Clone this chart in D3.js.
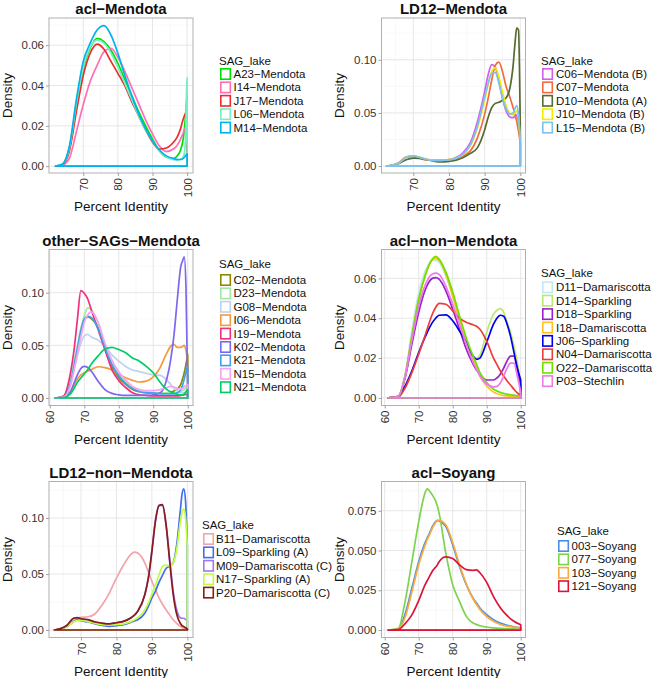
<!DOCTYPE html>
<html>
<head>
<meta charset="utf-8">
<script src="https://cdn.jsdelivr.net/npm/d3@7"></script>
<style>
  body { margin: 0; background: #fff; }
  svg { display: block; font-family: "Liberation Sans", Arial, Helvetica, sans-serif; }
</style>
</head>
<body>
<svg id="chart" width="653" height="678"></svg>
<script>
// ---------------- DATA ----------------
// Panel 1: acl-Mendota
const aclMendotaX = [62,64,66,68,70,72,74,76,78,80,82,84,86,88,90,92,94,96,97,98,99,99.5,99.8,100];
const aclMendotaNames = ["A23−Mendota","I14−Mendota","J17−Mendota","L06−Mendota","M14−Mendota"];
const aclMendotaValues = [
  [0,0.001,0.009,0.030,0.048,0.0585,0.0634,0.0618,0.0575,0.051,0.043,0.035,0.027,0.020,0.0135,0.0075,0.0045,0.0038,0.0048,0.0075,0.015,0.024,0.031,0.035],
  [0,0.0005,0.004,0.017,0.0306,0.042,0.050,0.0568,0.0585,0.054,0.047,0.039,0.031,0.023,0.016,0.010,0.0072,0.0085,0.010,0.013,0.017,0.019,0.020,0.020],
  [0,0.0008,0.0075,0.027,0.045,0.056,0.0605,0.058,0.052,0.046,0.040,0.032,0.025,0.018,0.012,0.0085,0.009,0.0117,0.014,0.018,0.024,0.026,0.027,0.028],
  [0,0.001,0.009,0.031,0.049,0.059,0.0625,0.061,0.056,0.049,0.041,0.033,0.025,0.018,0.0125,0.0075,0.0045,0.0032,0.003,0.0032,0.005,0.012,0.035,0.0437],
  [0,0.001,0.010,0.033,0.052,0.061,0.0675,0.0697,0.065,0.056,0.045,0.035,0.026,0.0185,0.0125,0.008,0.0051,0.0038,0.0034,0.0033,0.004,0.005,0.0058,0.006]
];
const aclMendotaYTicks = [0, 0.02, 0.04, 0.06];
const aclMendotaXTicks = [70, 80, 90, 100];

// Panel 2: LD12-Mendota
const ld12MendotaX = [62.5,64,66,68,70,72,74,76,78,80,82,84,86,88,90,91,92,93,94,95,96,97,98,98.5,99,99.5,100];
const ld12MendotaNames = ["C06−Mendota (B)","C07−Mendota","D10−Mendota (A)","J10−Mendota (B)","L15−Mendota (B)"];
const ld12MendotaValues = [
  [0,0.0008,0.0034,0.0087,0.0097,0.0075,0.006,0.0056,0.0056,0.006,0.008,0.0128,0.022,0.042,0.070,0.086,0.0955,0.093,0.080,0.064,0.052,0.0465,0.0455,0.047,0.048,0.042,0.030],
  [0,0.0008,0.003,0.0085,0.009,0.007,0.0055,0.0055,0.0055,0.0058,0.0068,0.0097,0.0143,0.0268,0.0486,0.064,0.081,0.095,0.0978,0.089,0.075,0.0657,0.0548,0.049,0.042,0.033,0.022],
  [0,0.0006,0.0025,0.006,0.0075,0.0072,0.006,0.0045,0.004,0.0045,0.0055,0.008,0.012,0.0174,0.034,0.046,0.055,0.059,0.060,0.062,0.064,0.072,0.095,0.115,0.130,0.128,0.035],
  [0,0.0008,0.003,0.0085,0.0095,0.008,0.0062,0.0055,0.0055,0.006,0.0075,0.011,0.019,0.036,0.062,0.077,0.089,0.0925,0.084,0.070,0.057,0.050,0.048,0.050,0.052,0.045,0.025],
  [0,0.0008,0.003,0.008,0.0095,0.0082,0.006,0.005,0.0052,0.0058,0.0075,0.0115,0.020,0.038,0.065,0.078,0.087,0.088,0.078,0.064,0.054,0.049,0.050,0.054,0.057,0.048,0.022]
];
const ld12MendotaYTicks = [0, 0.05, 0.10];
const ld12MendotaXTicks = [70, 80, 90, 100];

// Panel 3: other-SAGs-Mendota
const otherMendotaX = [61.5,64,66,67,68,69,70,71,72,74,76,78,80,82,84,86,88,90,92,93,94,95,96,97,98,98.5,99,99.5,100];
const otherMendotaNames = ["C02−Mendota","D23−Mendota","G08−Mendota","I06−Mendota","I19−Mendota","K02−Mendota","K21−Mendota","N15−Mendota","N21−Mendota"];
const otherMendotaValues = [
  [0,0.001,0.014,0.030,0.045,0.062,0.074,0.077,0.0755,0.0668,0.046,0.030,0.0193,0.013,0.0082,0.006,0.005,0.0044,0.0044,0.0045,0.005,0.0055,0.0066,0.009,0.013,0.018,0.024,0.032,0.0415],
  [0,0.001,0.018,0.034,0.050,0.066,0.078,0.0855,0.084,0.0715,0.049,0.0335,0.0225,0.0146,0.0098,0.007,0.006,0.005,0.005,0.005,0.005,0.005,0.005,0.0055,0.006,0.007,0.008,0.010,0.012],
  [0,0.001,0.012,0.026,0.040,0.052,0.059,0.0605,0.058,0.055,0.049,0.041,0.035,0.030,0.0266,0.025,0.0234,0.022,0.0215,0.020,0.017,0.013,0.009,0.007,0.005,0.005,0.005,0.006,0.008],
  [0,0.0005,0.006,0.012,0.018,0.022,0.024,0.0255,0.027,0.0297,0.0288,0.0266,0.0225,0.0193,0.0168,0.0152,0.016,0.020,0.0288,0.036,0.043,0.049,0.051,0.048,0.048,0.049,0.050,0.045,0.035],
  [0,0.002,0.024,0.045,0.0747,0.102,0.0995,0.094,0.084,0.065,0.046,0.027,0.0165,0.010,0.005,0.003,0.0025,0.002,0.002,0.002,0.002,0.002,0.002,0.002,0.0025,0.003,0.003,0.0035,0.0035],
  [0,0.001,0.006,0.014,0.022,0.028,0.030,0.029,0.0256,0.016,0.008,0.0044,0.003,0.0025,0.0025,0.0025,0.0025,0.003,0.005,0.009,0.019,0.035,0.059,0.094,0.125,0.130,0.134,0.105,0.010],
  [0,0.001,0.014,0.030,0.047,0.064,0.075,0.0775,0.0765,0.066,0.048,0.032,0.021,0.014,0.009,0.006,0.005,0.005,0.004,0.004,0.004,0.004,0.004,0.005,0.008,0.012,0.018,0.025,0.030],
  [0,0.001,0.012,0.026,0.042,0.058,0.072,0.079,0.082,0.072,0.052,0.036,0.025,0.017,0.011,0.008,0.007,0.007,0.008,0.009,0.010,0.011,0.0105,0.009,0.0085,0.009,0.011,0.012,0.013],
  [0,0.0005,0.004,0.009,0.015,0.019,0.023,0.027,0.032,0.040,0.0465,0.048,0.046,0.043,0.038,0.035,0.030,0.024,0.015,0.011,0.008,0.006,0.0045,0.0035,0.003,0.003,0.004,0.006,0.008]
];
const otherMendotaYTicks = [0, 0.05, 0.10];
const otherMendotaXTicks = [60, 70, 80, 90, 100];

// Panel 4: acl-non-Mendota
const aclNonMendotaX = [61,64,66,68,70,72,74,75,76,78,80,82,84,86,87,88,90,92,93,94,95,96,97,98,99,100];
const aclNonMendotaNames = ["D11−Damariscotta","D14−Sparkling","D18−Sparkling","I18−Damariscotta","J06−Sparkling","N04−Damariscotta","O22−Damariscotta","P03−Stechlin"];
const aclNonMendotaValues = [
  [0,0.001,0.012,0.034,0.053,0.064,0.069,0.069,0.068,0.061,0.051,0.040,0.029,0.020,0.016,0.0125,0.0075,0.0045,0.0035,0.003,0.0025,0.002,0.0018,0.0016,0.0014,0.0012],
  [0,0.0008,0.011,0.031,0.0495,0.062,0.0695,0.0705,0.0695,0.063,0.053,0.041,0.030,0.0205,0.020,0.0215,0.033,0.042,0.044,0.0448,0.043,0.038,0.033,0.026,0.018,0.006],
  [0,0.0008,0.010,0.027,0.043,0.0546,0.060,0.0604,0.0596,0.0537,0.0445,0.0345,0.0244,0.017,0.014,0.0119,0.009,0.009,0.010,0.0119,0.015,0.0186,0.021,0.021,0.0144,0.006],
  [0,0.0008,0.011,0.031,0.0495,0.062,0.0695,0.070,0.069,0.062,0.051,0.039,0.028,0.019,0.015,0.011,0.006,0.003,0.0022,0.0016,0.0012,0.001,0.0008,0.0007,0.0006,0.0005],
  [0,0.0005,0.006,0.0136,0.0228,0.031,0.0378,0.040,0.0415,0.0417,0.0387,0.0336,0.028,0.021,0.0194,0.020,0.028,0.037,0.040,0.0415,0.041,0.037,0.031,0.023,0.015,0.009],
  [0,0.0005,0.005,0.0127,0.022,0.032,0.042,0.0455,0.0475,0.047,0.0437,0.040,0.038,0.0367,0.036,0.0345,0.0285,0.020,0.0168,0.0136,0.011,0.0085,0.0065,0.0044,0.0025,0.0013],
  [0,0.0008,0.011,0.031,0.0495,0.062,0.0696,0.071,0.0696,0.063,0.053,0.041,0.030,0.021,0.017,0.0127,0.0077,0.0044,0.0035,0.0027,0.0022,0.0018,0.0015,0.0013,0.0011,0.001],
  [0,0.0008,0.011,0.029,0.046,0.057,0.0622,0.0626,0.062,0.056,0.047,0.037,0.027,0.018,0.0145,0.011,0.007,0.0055,0.0058,0.0075,0.011,0.015,0.0175,0.0175,0.011,0.003]
];
const aclNonMendotaYTicks = [0, 0.02, 0.04, 0.06];
const aclNonMendotaXTicks = [60, 70, 80, 90, 100];

// Panel 5: LD12-non-Mendota
const ld12NonMendotaX = [62.5,64,66,68,69,70,72,74,76,78,80,82,84,85,86,88,89,90,91,92,93,94,95,96,97,98,98.5,99,99.5,100];
const ld12NonMendotaNames = ["B11−Damariscotta","L09−Sparkling (A)","M09−Damariscotta (C)","N17−Sparkling (A)","P20−Damariscotta (C)"];
const ld12NonMendotaValues = [
  [0,0.0005,0.004,0.0092,0.0105,0.0113,0.0118,0.0145,0.0226,0.033,0.0464,0.058,0.0673,0.0696,0.0687,0.060,0.052,0.0435,0.036,0.0286,0.023,0.018,0.0135,0.0092,0.006,0.0033,0.0022,0.0014,0.0008,0.0003],
  [0,0.0008,0.003,0.0077,0.009,0.0083,0.0071,0.0054,0.0042,0.0033,0.0039,0.0048,0.0068,0.008,0.0092,0.015,0.021,0.0286,0.0345,0.0425,0.049,0.055,0.057,0.060,0.076,0.106,0.121,0.126,0.115,0.075],
  [0,0.001,0.004,0.0105,0.0108,0.010,0.009,0.007,0.006,0.0054,0.0065,0.0077,0.0107,0.013,0.0167,0.0315,0.047,0.071,0.098,0.1115,0.111,0.094,0.064,0.035,0.018,0.011,0.0105,0.0105,0.0095,0.008],
  [0,0.0008,0.003,0.0075,0.0085,0.0085,0.0075,0.0058,0.0048,0.0045,0.0048,0.0055,0.0075,0.009,0.011,0.018,0.024,0.032,0.040,0.049,0.057,0.058,0.057,0.060,0.072,0.096,0.105,0.108,0.100,0.075],
  [0,0.001,0.004,0.0107,0.011,0.010,0.0092,0.0071,0.006,0.0054,0.0065,0.0077,0.0107,0.013,0.0167,0.0315,0.046,0.070,0.097,0.111,0.112,0.094,0.062,0.032,0.014,0.006,0.004,0.003,0.002,0.001]
];
const ld12NonMendotaYTicks = [0, 0.05, 0.10];
const ld12NonMendotaXTicks = [70, 80, 90, 100];

// Panel 6: acl-Soyang
const aclSoyangX = [61,64,66,68,70,72,72.5,73,74,75.5,76,78,80,82,84,86,87,88,90,92,94,96,98,100];
const aclSoyangNames = ["003−Soyang","077−Soyang","103−Soyang","121−Soyang"];
const aclSoyangValues = [
  [0,0.0005,0.010,0.0264,0.043,0.0556,0.058,0.060,0.065,0.069,0.0686,0.065,0.0535,0.040,0.0285,0.020,0.017,0.0138,0.0096,0.0065,0.0044,0.003,0.002,0.0013],
  [0,0.001,0.018,0.043,0.068,0.087,0.0887,0.088,0.085,0.078,0.0735,0.048,0.0285,0.018,0.0086,0.0044,0.0035,0.0027,0.0019,0.0014,0.0011,0.0009,0.0007,0.0006],
  [0,0.0004,0.008,0.024,0.041,0.054,0.057,0.059,0.064,0.0688,0.069,0.066,0.055,0.041,0.029,0.0195,0.016,0.013,0.0085,0.0055,0.0035,0.0025,0.0018,0.0012],
  [0,0.0003,0.004,0.0095,0.0185,0.029,0.031,0.033,0.037,0.041,0.043,0.046,0.045,0.041,0.038,0.0375,0.0378,0.036,0.030,0.021,0.014,0.009,0.0055,0.0033]
];
const aclSoyangYTicks = [0, 0.025, 0.05, 0.075];
const aclSoyangXTicks = [60, 70, 80, 90, 100];

// ---------------- STYLE / LAYOUT ----------------
const colors = {
  aclMendota: ["#00E000","#FF6EB4","#EE2C2C","#76EEC6","#00B2EE"],
  ld12Mendota: ["#D15FEE","#F26B45","#556B2F","#EEEE00","#7EC0EE"],
  otherMendota: ["#8B8B00","#A2E8A2","#BCD2EE","#F39A3C","#F0307E","#7B68EE","#3FA0F0","#F5A3F5","#00CD66"],
  aclNonMendota: ["#C1E8F5","#BCE870","#9A20CD","#FFC125","#0000EE","#EE3B3B","#70E000","#EE7AE9"],
  ld12NonMendota: ["#F4A3A8","#436EEE","#9F79EE","#C0FF3E","#8B1A1A"],
  aclSoyang: ["#4A8FE6","#7ED34E","#FAAA3C","#DC143C"]
};

const panels = [
  {title:"acl−Mendota", xs:aclMendotaX, names:aclMendotaNames, values:aclMendotaValues, yTicks:aclMendotaYTicks, xTicks:aclMendotaXTicks, fmt:".2f", col:colors.aclMendota,
   rect:{x:49,y:18,w:144,h:155}, xdom:[60.1,101.7], ydom:[-0.0034,0.0735], leg:{kx:220,tx:233.5,ty:61,k0:74}},
  {title:"LD12−Mendota", xs:ld12MendotaX, names:ld12MendotaNames, values:ld12MendotaValues, yTicks:ld12MendotaYTicks, xTicks:ld12MendotaXTicks, fmt:".2f", col:colors.ld12Mendota,
   rect:{x:381.5,y:18,w:144,h:155}, xdom:[61.08,101.46], ydom:[-0.0065,0.1393], leg:{kx:542,tx:556,ty:61,k0:74}},
  {title:"other−SAGs−Mendota", xs:otherMendotaX, names:otherMendotaNames, values:otherMendotaValues, yTicks:otherMendotaYTicks, xTicks:otherMendotaXTicks, fmt:".2f", col:colors.otherMendota,
   rect:{x:49,y:249.5,w:144,h:156}, xdom:[59.76,101.54], ydom:[-0.0071,0.141], leg:{kx:220,tx:233.5,ty:264.3,k0:280}},
  {title:"acl−non−Mendota", xs:aclNonMendotaX, names:aclNonMendotaNames, values:aclNonMendotaValues, yTicks:aclNonMendotaYTicks, xTicks:aclNonMendotaXTicks, fmt:".2f", col:colors.aclNonMendota,
   rect:{x:381.5,y:249.5,w:144,h:156}, xdom:[59.06,101.41], ydom:[-0.0038,0.0745], leg:{kx:542,tx:556,ty:272.7,k0:287.3}},
  {title:"LD12−non−Mendota", xs:ld12NonMendotaX, names:ld12NonMendotaNames, values:ld12NonMendotaValues, yTicks:ld12NonMendotaYTicks, xTicks:ld12NonMendotaXTicks, fmt:".2f", col:colors.ld12NonMendota,
   rect:{x:49,y:481.5,w:144,h:156}, xdom:[60.97,101.6], ydom:[-0.0067,0.1326], leg:{kx:203,tx:216,ty:525,k0:539}},
  {title:"acl−Soyang", xs:aclSoyangX, names:aclSoyangNames, values:aclSoyangValues, yTicks:aclSoyangYTicks, xTicks:aclSoyangXTicks, fmt:".3f", col:colors.aclSoyang,
   rect:{x:381.5,y:481.5,w:144,h:156}, xdom:[59.06,101.41], ydom:[-0.0047,0.0934], leg:{kx:558,tx:571.5,ty:530.7,k0:546}}
];

const svg = d3.select("#chart");
const STEP = 13.4;

panels.forEach(p => {
  const r = p.rect;
  const x = d3.scaleLinear().domain(p.xdom).range([r.x, r.x + r.w]);
  const y = d3.scaleLinear().domain(p.ydom).range([r.y + r.h, r.y]);
  const g = svg.append("g");

  g.append("rect").attr("x", r.x).attr("y", r.y).attr("width", r.w).attr("height", r.h).attr("fill", "#fff");

  // minor grid
  const xMinor = p.xTicks.map(t => t - 5).concat([p.xTicks[p.xTicks.length-1] + 5]).filter(v => v > p.xdom[0] && v < p.xdom[1]);
  const yStep = p.yTicks[1] - p.yTicks[0];
  const yMinor = p.yTicks.map(t => t + yStep/2).filter(v => v > p.ydom[0] && v < p.ydom[1]);
  g.selectAll(".xminor").data(xMinor).join("line")
    .attr("x1", d => x(d)).attr("x2", d => x(d)).attr("y1", r.y).attr("y2", r.y + r.h)
    .attr("stroke", "#F3F3F3").attr("stroke-width", 0.6);
  g.selectAll(".yminor").data(yMinor).join("line")
    .attr("y1", d => y(d)).attr("y2", d => y(d)).attr("x1", r.x).attr("x2", r.x + r.w)
    .attr("stroke", "#F3F3F3").attr("stroke-width", 0.6);
  // major grid
  g.selectAll(".xmajor").data(p.xTicks).join("line")
    .attr("x1", d => x(d)).attr("x2", d => x(d)).attr("y1", r.y).attr("y2", r.y + r.h)
    .attr("stroke", "#E6E6E6").attr("stroke-width", 1);
  g.selectAll(".ymajor").data(p.yTicks).join("line")
    .attr("y1", d => y(d)).attr("y2", d => y(d)).attr("x1", r.x).attr("x2", r.x + r.w)
    .attr("stroke", "#E6E6E6").attr("stroke-width", 1);

  // density outlines (closed, unfilled)
  const area = d3.area()
    .x(d => x(d[0])).y0(y(0)).y1(d => y(d[1]))
    .curve(d3.curveMonotoneX);
  p.values.forEach((vals, i) => {
    const pts = p.xs.map((xv, j) => [xv, vals[j]]);
    g.append("path").attr("d", area(pts))
      .attr("fill", "none").attr("stroke", p.col[i]).attr("stroke-width", 1.7)
      .attr("stroke-linejoin", "round");
  });

  // border
  g.append("rect").attr("x", r.x).attr("y", r.y).attr("width", r.w).attr("height", r.h)
    .attr("fill", "none").attr("stroke", "#B0B0B0").attr("stroke-width", 1);

  // axes
  const yAxis = d3.axisLeft(y).tickValues(p.yTicks).tickFormat(d3.format(p.fmt)).tickSize(3).tickPadding(2);
  const ya = g.append("g").attr("transform", `translate(${r.x},0)`).call(yAxis);
  ya.select(".domain").remove();
  ya.selectAll("line").attr("stroke", "#A0A0A0");
  ya.selectAll("text").attr("font-size", 11.5).attr("fill", "#333")
    .attr("font-family", "'Liberation Sans', Arial, sans-serif");

  const xAxis = d3.axisBottom(x).tickValues(p.xTicks).tickFormat(d3.format("d")).tickSize(3);
  const xa = g.append("g").attr("transform", `translate(0,${r.y + r.h})`).call(xAxis);
  xa.select(".domain").remove();
  xa.selectAll("line").attr("stroke", "#A0A0A0");
  xa.selectAll("text")
    .attr("font-size", 11.5).attr("fill", "#333")
    .attr("font-family", "'Liberation Sans', Arial, sans-serif")
    .attr("text-anchor", "end")
    .attr("transform", "rotate(-90)")
    .attr("x", -5).attr("y", 0).attr("dy", "0.35em");

  // titles
  g.append("text").attr("x", r.x + r.w/2).attr("y", Math.max(r.y - 4, 14))
    .attr("text-anchor", "middle").attr("font-size", 15).attr("font-weight", "bold").attr("fill", "#111")
    .text(p.title);
  g.append("text").attr("x", r.x + r.w/2).attr("y", r.y + r.h + 38)
    .attr("text-anchor", "middle").attr("font-size", 13.5).attr("fill", "#111")
    .text("Percent Identity");
  g.append("text")
    .attr("transform", `translate(${r.x - 42},${r.y + r.h/2}) rotate(-90)`)
    .attr("dy", "0.35em")
    .attr("text-anchor", "middle").attr("font-size", 13.5).attr("fill", "#111")
    .text("Density");

  // legend
  const L = p.leg;
  g.append("text").attr("x", L.kx - 1).attr("y", L.ty).attr("dy", "0.35em")
    .attr("font-size", 11.5).attr("fill", "#111").text("SAG_lake");
  p.names.forEach((nm, i) => {
    const cy = L.k0 + i * STEP;
    g.append("rect").attr("x", L.kx + 0.8).attr("y", cy - 5.2).attr("width", 9.5).attr("height", 10.4)
      .attr("fill", "#fff").attr("stroke", p.col[i]).attr("stroke-width", 1.6);
    g.append("text").attr("x", L.tx).attr("y", cy).attr("dy", "0.35em")
      .attr("font-size", 11.5).attr("fill", "#111").text(nm);
  });
});
</script>
</body>
</html>
